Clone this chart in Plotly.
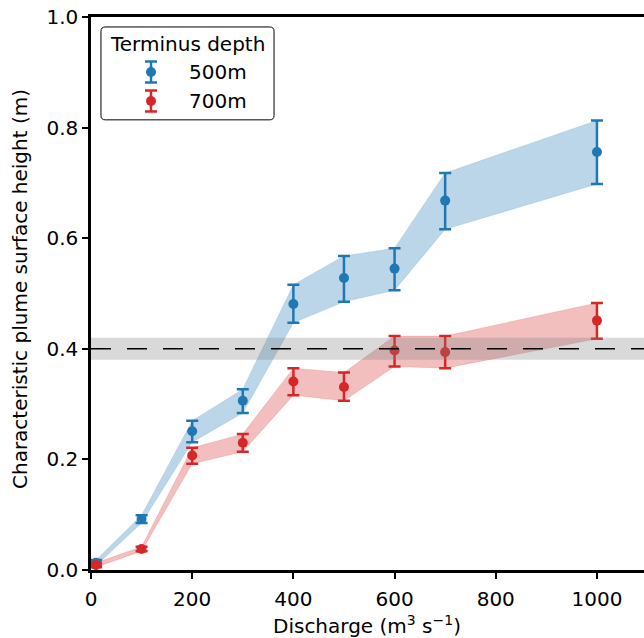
import plotly.graph_objects as go

discharge = [10, 100, 200, 300, 400, 500, 600, 700, 1000]
h500 = [0.013, 0.092, 0.251, 0.306, 0.481, 0.528, 0.545, 0.668, 0.756]
h500_lo = [0.008, 0.085, 0.231, 0.284, 0.447, 0.485, 0.506, 0.616, 0.698]
h500_hi = [0.018, 0.099, 0.270, 0.327, 0.516, 0.568, 0.582, 0.718, 0.813]
h700 = [0.009, 0.038, 0.207, 0.230, 0.341, 0.331, 0.397, 0.394, 0.451]
h700_lo = [0.005, 0.034, 0.192, 0.214, 0.316, 0.306, 0.368, 0.365, 0.418]
h700_hi = [0.013, 0.042, 0.221, 0.246, 0.365, 0.357, 0.423, 0.423, 0.483]
threshold = 0.40
threshold_band = [0.38, 0.42]
series_names = ["500m", "700m"]
legend_title = "Terminus depth"
x_title = "Discharge (m<sup>3</sup> s<sup>−1</sup>)"
y_title = "Characteristic plume surface height (m)"
colors = ["#1f77b4", "#d62728"]
fills = ["rgba(31,119,180,0.3)", "rgba(214,39,40,0.3)"]

FONT = "DejaVu Sans"
FS = 20
fig = go.Figure()

series = [(h500, h500_lo, h500_hi), (h700, h700_lo, h700_hi)]
for (mid, lo, hi), c, f in zip(series, colors, fills):
    fig.add_trace(go.Scatter(
        x=discharge + discharge[::-1], y=hi + lo[::-1], fill="toself",
        fillcolor=f, line=dict(width=0.5, color=f), mode="lines",
        hoverinfo="skip", showlegend=False))

# threshold band and line
fig.add_shape(type="rect", xref="paper", x0=0, x1=1, yref="y",
              y0=threshold_band[0], y1=threshold_band[1],
              fillcolor="rgba(128,128,128,0.3)", line_width=0, layer="above")
fig.add_shape(type="line", xref="paper", x0=0, x1=1, yref="y",
              y0=threshold, y1=threshold, line=dict(color="black", width=1.5, dash="20px,16px"),
              layer="above")

for (mid, lo, hi), c, name in zip(series, colors, series_names):
    fig.add_trace(go.Scatter(
        x=discharge, y=mid, mode="markers", name=name,
        marker=dict(color=c, size=10),
        error_y=dict(type="data", symmetric=False,
                     array=[h - m for h, m in zip(hi, mid)],
                     arrayminus=[m - l for m, l in zip(mid, lo)],
                     color=c, thickness=2.5, width=6),
        showlegend=False))

# custom legend on an overlay axis
leg_x = 0.1085
leg_y = [0.9005, 0.848]
x0, x1, y0, y1, r = 0.018, 0.331, 0.814, 0.982, 0.008
path = (f"M {x0+r},{y0} L {x1-r},{y0} Q {x1},{y0} {x1},{y0+r} L {x1},{y1-r} "
        f"Q {x1},{y1} {x1-r},{y1} L {x0+r},{y1} Q {x0},{y1} {x0},{y1-r} "
        f"L {x0},{y0+r} Q {x0},{y0} {x0+r},{y0} Z")
fig.add_shape(type="path", xref="paper", yref="paper", path=path,
              line=dict(color="black", width=1), fillcolor="white",
              layer="below")
for yy, c in zip(leg_y, colors):
    fig.add_trace(go.Scatter(
        x=[leg_x], y=[yy], xaxis="x2", yaxis="y2", mode="markers",
        marker=dict(color=c, size=10),
        error_y=dict(type="constant", value=0.019, color=c, thickness=2.5, width=6),
        showlegend=False, hoverinfo="skip"))

annots = [dict(x=0.1754, y=0.951, text=legend_title, xanchor="center")]
for yy, name in zip(leg_y, series_names):
    annots.append(dict(x=0.1736, y=yy, text=name, xanchor="left"))
for a in annots:
    fig.add_annotation(xref="paper", yref="paper", showarrow=False, yanchor="middle",
                       font=dict(family=FONT, size=FS, color="black"), **a)

# axis titles
fig.add_annotation(xref="paper", yref="paper", x=(367 - 91) / 553, y=(570 - 625) / 553,
                   text=x_title, showarrow=False, xanchor="center", yanchor="middle",
                   font=dict(family=FONT, size=FS, color="black"))
fig.add_annotation(xref="paper", yref="paper", x=(20 - 91) / 553, y=(570 - 289) / 553,
                   text=y_title, textangle=-90,
                   showarrow=False, xanchor="center", yanchor="middle",
                   font=dict(family=FONT, size=FS, color="black"))

fig.update_layout(
    width=644, height=638,
    margin=dict(l=91, r=0, t=17, b=68, pad=0, autoexpand=False),
    plot_bgcolor="white", paper_bgcolor="white",
    font=dict(family=FONT, size=FS, color="black"),
    showlegend=False,
    xaxis=dict(range=[0, 1093], tickvals=[0, 200, 400, 600, 800, 1000],
               showline=True, linecolor="black", linewidth=2.5, mirror=True,
               ticks="outside", ticklen=6, tickwidth=2, tickcolor="black",
               ticklabelstandoff=3,
               showgrid=False, zeroline=False, automargin=False),
    yaxis=dict(range=[0, 1.0], tickvals=[0, 0.2, 0.4, 0.6, 0.8, 1.0], tickformat=".1f",
               showline=True, linecolor="black", linewidth=2.5,
               ticks="outside", ticklen=6, tickwidth=2, tickcolor="black",
               showgrid=False, zeroline=False, automargin=False),
    xaxis2=dict(overlaying="x", range=[0, 1], visible=False, fixedrange=True),
    yaxis2=dict(overlaying="y", range=[0, 1], visible=False, fixedrange=True),
)

fig.write_html("out.html", config={"displayModeBar": False},
               post_script="document.body.style.margin='0';document.body.style.overflow='hidden';")
